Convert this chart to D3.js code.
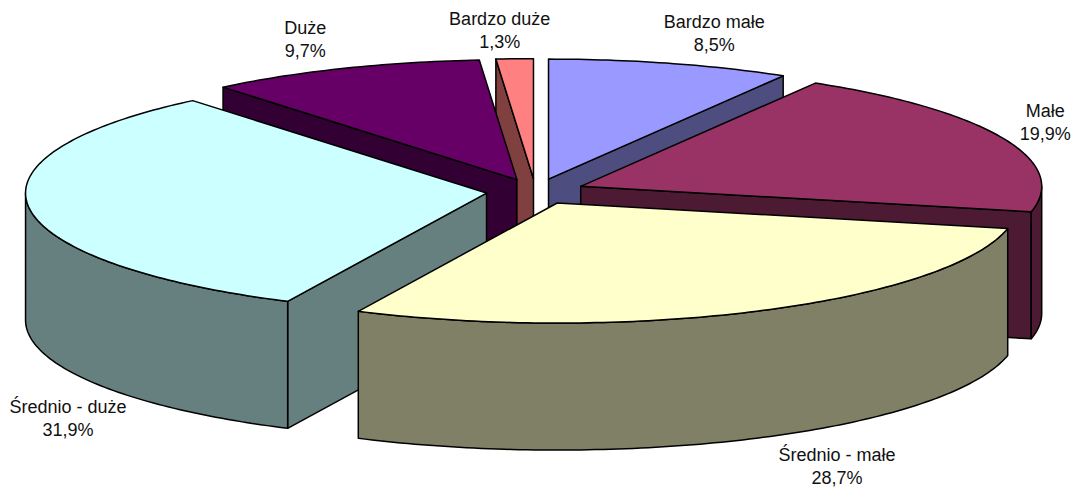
<!DOCTYPE html>
<html lang="pl">
<head>
  <meta charset="UTF-8">
  <title>Pie 3D</title>
  <script src="https://d3js.org/d3.v7.min.js"></script>
  <style>
    html, body { margin: 0; padding: 0; background: #fff; }
    svg { display: block; }
    .label { font-family: "Liberation Sans", Arial, sans-serif; font-size: 18px; fill: #111; text-anchor: middle; }
    .face { stroke: #000; stroke-width: 1.5; stroke-linejoin: round; }
  </style>
</head>
<body>
<script>
  // values from the chart labels, clockwise from 12 o'clock
  const categories = ["Bardzo małe", "Małe", "Średnio - małe", "Średnio - duże", "Duże", "Bardzo duże"];
  const shares = [8.5, 19.9, 28.7, 31.9, 9.7, 1.3];
  const topColors = ["#9999ff", "#993366", "#ffffcc", "#ccffff", "#660066", "#ff8080"];
  const wallColors = ["#4d4d80", "#4d1a33", "#808066", "#668080", "#330033", "#804040"];

  // back slices first so the front ones paint over them
  const drawOrder = [0, 5, 4, 1, 3, 2];
  // label shift from the slice rim, first line baseline
  const labelOffsets = [[44, -35], [42, -21], [77, 150], [39, 205], [-38, -34], [-15, -34]];

  const width = 1076;
  const height = 491;
  const cx = 535.5, cy = 191.5;
  const rx = 461, ry = 120;
  const depth = 127;
  const explode = 0.107;

  const xScale = d3.scaleLinear().domain([-1, 1]).range([cx - rx, cx + rx]);
  const yScale = d3.scaleLinear().domain([-1, 1]).range([cy + ry, cy - ry]);

  const svg = d3.select("body").append("svg")
    .attr("width", width)
    .attr("height", height);

  const slices = d3.pie().sort(null)(shares);
  const line = d3.line();

  // ground position of a slice: u right, v back, moved out along its middle angle
  function project(s, angle, r) {
    const mid = (s.startAngle + s.endAngle) / 2;
    const u = explode * Math.sin(mid) + r * Math.sin(angle);
    const v = explode * Math.cos(mid) + r * Math.cos(angle);
    return [xScale(u), yScale(v)];
  }

  function arcPoints(s, a0, a1, r) {
    const n = Math.max(2, Math.ceil((a1 - a0) * 60));
    return d3.range(n + 1).map(i => project(s, a0 + (a1 - a0) * i / n, r));
  }

  const down = p => [p[0], p[1] + depth];

  function addFace(points, color) {
    svg.append("path")
      .attr("class", "face")
      .attr("d", line(points) + "Z")
      .attr("fill", color);
  }

  drawOrder.forEach(i => {
    const s = slices[i];
    const apex = project(s, 0, 0);
    const a0 = s.startAngle;
    const a1 = s.endAngle;

    // start face shows when it looks to the viewer
    if (Math.sin(a0) < -1e-6) {
      const p = project(s, a0, 1);
      addFace([apex, p, down(p), down(apex)], wallColors[i]);
    }
    // end face
    if (Math.sin(a1) > 1e-6) {
      const p = project(s, a1, 1);
      addFace([apex, p, down(p), down(apex)], wallColors[i]);
    }
    // outer wall, only the part on the front half
    const w0 = Math.max(a0, Math.PI / 2);
    const w1 = Math.min(a1, Math.PI * 3 / 2);
    if (w1 > w0) {
      const rim = arcPoints(s, w0, w1, 1);
      addFace(rim.concat(rim.slice().reverse().map(down)), wallColors[i]);
    }
    // top
    addFace([apex].concat(arcPoints(s, a0, a1, 1)), topColors[i]);
  });

  // labels
  slices.forEach((s, i) => {
    const mid = (s.startAngle + s.endAngle) / 2;
    const p = project(s, mid, 1);
    const x = p[0] + labelOffsets[i][0];
    const y = p[1] + labelOffsets[i][1];
    const text = svg.append("text").attr("class", "label");
    text.append("tspan").attr("x", x).attr("y", y).text(categories[i]);
    text.append("tspan").attr("x", x).attr("y", y + 23).text(shares[i].toFixed(1).replace(".", ",") + "%");
  });
</script>
</body>
</html>
